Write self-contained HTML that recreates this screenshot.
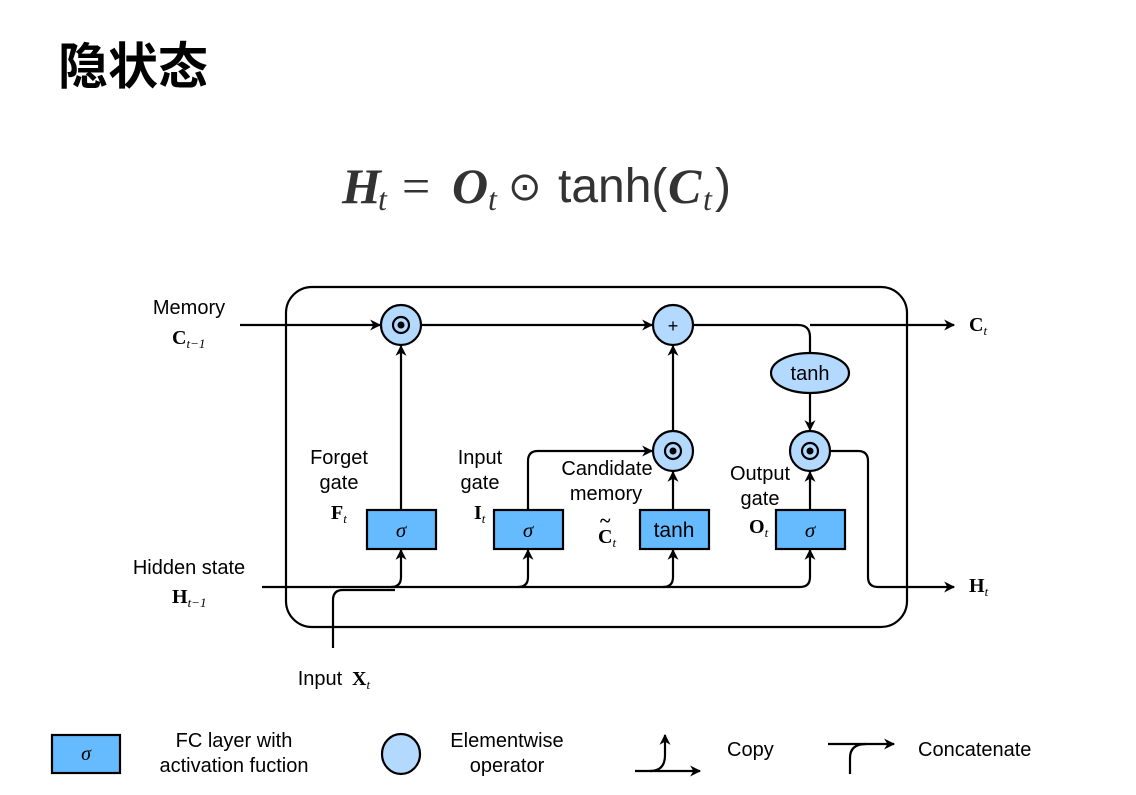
<!DOCTYPE html>
<html><head><meta charset="utf-8"><style>
html,body{margin:0;padding:0;background:#fff;width:1136px;height:795px;overflow:hidden}
svg{display:block}
.s{font-family:"Liberation Sans",sans-serif}
.b{font-family:"Liberation Serif",serif;font-weight:bold}
.m{font-family:"Liberation Serif",serif;font-style:italic;font-weight:bold}
.sub{font-family:"Liberation Serif",serif;font-style:italic;font-weight:normal}
</style></head><body>
<svg width="1136" height="795" viewBox="0 0 1136 795" xmlns="http://www.w3.org/2000/svg">
<defs>
<marker id="a" viewBox="0 0 10 10" refX="9" refY="5" markerWidth="13" markerHeight="11" orient="auto" markerUnits="userSpaceOnUse">
<path d="M0,0 L10,5 L0,10 L3,5 z" fill="#000"/></marker>
</defs>
<text x="58" y="84" font-family="'Liberation Sans','Noto Sans CJK SC',sans-serif" font-size="50" font-weight="bold">隐状态</text>
<g fill="#333">
<text x="342" y="203" class="m" font-size="50">H</text>
<text x="378" y="210" class="sub" font-size="32">t</text>
<text x="402" y="203" font-family="Liberation Serif,serif" font-size="50">=</text>
<text x="452" y="203" class="m" font-size="50">O</text>
<text x="488" y="210" class="sub" font-size="32">t</text>
<text x="508" y="200" font-family="DejaVu Sans,sans-serif" font-size="40">⊙</text>
<text x="558" y="202" font-family="Liberation Sans,sans-serif" font-size="48">tanh(</text>
<text x="668" y="203" class="m" font-size="50">C</text>
<text x="703" y="210" class="sub" font-size="32">t</text>
<text x="715" y="202" font-family="Liberation Sans,sans-serif" font-size="48">)</text>
</g>

<g fill="none" stroke="#000" stroke-width="2.2">
<rect x="286" y="287" width="621" height="340" rx="26"/>
<line x1="240" y1="325" x2="380" y2="325" marker-end="url(#a)"/>
<line x1="421" y1="325" x2="652" y2="325" marker-end="url(#a)"/>
<path d="M693,325 H798 Q810,325 810,337 V353"/>
<line x1="810" y1="325" x2="954" y2="325" marker-end="url(#a)"/>
<line x1="810" y1="393" x2="810" y2="430" marker-end="url(#a)"/>
<line x1="401" y1="510" x2="401" y2="346" marker-end="url(#a)"/>
<line x1="673" y1="431" x2="673" y2="346" marker-end="url(#a)"/>
<line x1="673" y1="510" x2="673" y2="472" marker-end="url(#a)"/>
<line x1="810" y1="510" x2="810" y2="472" marker-end="url(#a)"/>
<path d="M528,510 V461 Q528,451 538,451 H652" marker-end="url(#a)"/>
<path d="M830,451 H858 Q868,451 868,461 V577 Q868,587 878,587 H954" marker-end="url(#a)"/>
<path d="M262,587 H800 Q810,587 810,577 V550" marker-end="url(#a)"/>
<path d="M391,587 Q401,587 401,577 V550" marker-end="url(#a)"/>
<path d="M518,587 Q528,587 528,577 V550" marker-end="url(#a)"/>
<path d="M663,587 Q673,587 673,577 V550" marker-end="url(#a)"/>
<path d="M333,648 V600 Q333,590 343,590 H395"/>
</g>
<g stroke="#000" stroke-width="2.2" fill="#b3d9ff">
<circle cx="401" cy="325" r="20"/>
<circle cx="673" cy="325" r="20"/>
<circle cx="673" cy="451" r="20"/>
<circle cx="810" cy="451" r="20"/>
<ellipse cx="810" cy="373" rx="39" ry="20"/>
</g>
<g fill="#000"><circle cx="401" cy="325" r="3.5"/><circle cx="673" cy="451" r="3.5"/><circle cx="810" cy="451" r="3.5"/></g>
<g fill="none" stroke="#000" stroke-width="2.2"><circle cx="401" cy="325" r="8"/><circle cx="673" cy="451" r="8"/><circle cx="810" cy="451" r="8"/></g>
<text x="673" y="332" class="s" font-size="18" text-anchor="middle">+</text>
<text x="810" y="380" class="s" font-size="20" text-anchor="middle">tanh</text>
<g stroke="#000" stroke-width="2.2" fill="#66bbff">
<rect x="367" y="510" width="69" height="39"/>
<rect x="494" y="510" width="69" height="39"/>
<rect x="640" y="510" width="69" height="39"/>
<rect x="776" y="510" width="69" height="39"/>
</g>
<g class="s" font-size="21" text-anchor="middle">
<text x="401" y="537" font-style="italic" font-family="Liberation Serif,serif">σ</text>
<text x="528" y="537" font-style="italic" font-family="Liberation Serif,serif">σ</text>
<text x="674" y="537">tanh</text>
<text x="810" y="537" font-style="italic" font-family="Liberation Serif,serif">σ</text>
</g>
<g class="s" font-size="20" text-anchor="middle">
<text x="189" y="314">Memory</text>
<text x="189" y="574">Hidden state</text>
<text x="339" y="464">Forget</text><text x="339" y="489">gate</text>
<text x="480" y="464">Input</text><text x="480" y="489">gate</text>
<text x="607" y="475">Candidate</text><text x="606" y="500">memory</text>
<text x="760" y="480">Output</text><text x="760" y="505">gate</text>
<text x="320" y="685">Input</text>
</g>
<g class="b" font-size="20">
<text x="172" y="344">C<tspan font-size="13" font-style="italic" font-weight="normal" dy="4">t−1</tspan></text>
<text x="172" y="603">H<tspan font-size="13" font-style="italic" font-weight="normal" dy="4">t−1</tspan></text>
<text x="969" y="331">C<tspan font-size="13" font-style="italic" font-weight="normal" dy="4">t</tspan></text>
<text x="969" y="592">H<tspan font-size="13" font-style="italic" font-weight="normal" dy="4">t</tspan></text>
<text x="331" y="519">F<tspan font-size="13" font-style="italic" font-weight="normal" dy="4">t</tspan></text>
<text x="474" y="519">I<tspan font-size="13" font-style="italic" font-weight="normal" dy="4">t</tspan></text>
<text x="598" y="543">C<tspan font-size="13" font-style="italic" font-weight="normal" dy="4">t</tspan></text>
<text x="600" y="527" font-size="20">~</text>
<text x="749" y="533">O<tspan font-size="13" font-style="italic" font-weight="normal" dy="4">t</tspan></text>
<text x="352" y="685">X<tspan font-size="13" font-style="italic" font-weight="normal" dy="4">t</tspan></text>
</g>
<rect x="52" y="735" width="68" height="38" fill="#66bbff" stroke="#000" stroke-width="2.2"/>
<text x="86" y="760" font-family="Liberation Serif,serif" font-style="italic" font-size="20" text-anchor="middle">σ</text>
<g class="s" font-size="20" text-anchor="middle">
<text x="234" y="747">FC layer with</text><text x="234" y="772">activation fuction</text>
<text x="507" y="747">Elementwise</text><text x="507" y="772">operator</text>
</g>
<g class="s" font-size="20"><text x="727" y="756">Copy</text><text x="918" y="756">Concatenate</text></g>
<ellipse cx="401" cy="754" rx="19" ry="20" fill="#b3d9ff" stroke="#000" stroke-width="2.2"/>
<g fill="none" stroke="#000" stroke-width="2.2">
<line x1="635" y1="771" x2="700" y2="771" marker-end="url(#a)"/>
<path d="M650,771 Q665,771 665,755 V735" marker-end="url(#a)"/>
<line x1="828" y1="744" x2="894" y2="744" marker-end="url(#a)"/>
<path d="M850,774 V758 Q850,744 866,744"/>
</g>
</svg>
</body></html>
